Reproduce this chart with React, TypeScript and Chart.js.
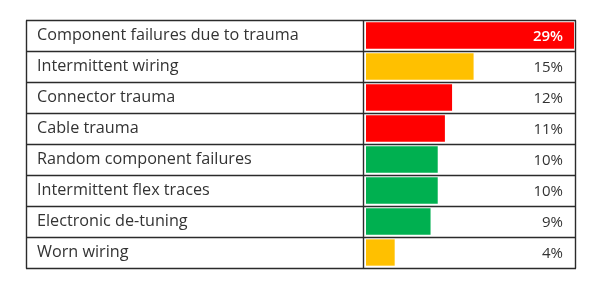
import React, { useEffect, useRef } from "react";
import { Chart, registerables } from "chart.js";

Chart.register(...registerables);

const categories = [
  "Component failures due to trauma",
  "Intermittent wiring",
  "Connector trauma",
  "Cable trauma",
  "Random component failures",
  "Intermittent flex traces",
  "Electronic de-tuning",
  "Worn wiring",
];
const values = [29, 15, 12, 11, 10, 10, 9, 4];
const valueLabels = ["29%", "15%", "12%", "11%", "10%", "10%", "9%", "4%"];
const barColors = ["#FF0000", "#FFC000", "#FF0000", "#FF0000", "#00B050", "#00B050", "#00B050", "#FFC000"];
const labelColors = ["#FFFFFF", "#333333", "#333333", "#333333", "#333333", "#333333", "#333333", "#333333"];

const FONT = "'Open Sans'";

const tablePlugin = {
  id: "tableLines",
  afterDraw(chart: any) {
    const { ctx, chartArea, scales } = chart;
    const y = scales.y;
    const left = 26;
    const right = chartArea.right + 1;
    const n = categories.length;
    ctx.save();
    ctx.strokeStyle = "#2b2b2b";
    ctx.lineWidth = 1.4;
    for (let i = 0; i <= n; i++) {
      const py = Math.round(y.getPixelForValue(i - 0.5)) + 0.5;
      ctx.beginPath();
      ctx.moveTo(left, py);
      ctx.lineTo(right + 1, py);
      ctx.stroke();
    }
    const top = Math.round(y.getPixelForValue(-0.5)) + 0.5;
    const bottom = Math.round(y.getPixelForValue(n - 0.5)) + 0.5;
    ctx.beginPath();
    ctx.moveTo(left + 0.5, top);
    ctx.lineTo(left + 0.5, bottom);
    ctx.moveTo(chartArea.left - 2.5, top);
    ctx.lineTo(chartArea.left - 2.5, bottom);
    ctx.moveTo(right + 0.5, top);
    ctx.lineTo(right + 0.5, bottom);
    ctx.stroke();
    // value labels
    ctx.textAlign = "right";
    ctx.textBaseline = "middle";
    for (let i = 0; i < n; i++) {
      ctx.font = `${i === 0 ? "600 " : ""}15px ${FONT}`;
      ctx.fillStyle = labelColors[i];
      ctx.fillText(valueLabels[i], chartArea.right - 11, y.getPixelForValue(i) + 1);
    }
    ctx.restore();
  },
};

export default function App() {
  const ref = useRef<HTMLCanvasElement>(null);
  useEffect(() => {
    const chart = new Chart(ref.current!, {
      type: "bar",
      data: {
        labels: categories,
        datasets: [
          {
            data: values,
            backgroundColor: barColors,
            borderWidth: 0,
            barPercentage: 0.85,
            categoryPercentage: 1,
          },
        ],
      },
      options: {
        indexAxis: "y",
        animation: false,
        responsive: false,
        layout: { padding: { left: 37, right: 18, top: 20, bottom: 21 } },
        plugins: { legend: { display: false }, tooltip: { enabled: false } },
        scales: {
          x: { display: false, min: 0, max: 29 },
          y: {
            afterFit(scale: any) {
              scale.width = 329;
            },
            border: { display: false },
            grid: { display: false },
            ticks: {
              crossAlign: "far",
              padding: 0,
              color: "#333333",
              font: { family: FONT, size: 16.2 },
            },
          },
        },
      },
      plugins: [tablePlugin],
    });
    return () => chart.destroy();
  }, []);
  return (
    <div style={{ position: "fixed", left: 0, top: 0, width: 592, height: 289, background: "#fff" }}>
      <canvas ref={ref} width={592} height={289} />
    </div>
  );
}
